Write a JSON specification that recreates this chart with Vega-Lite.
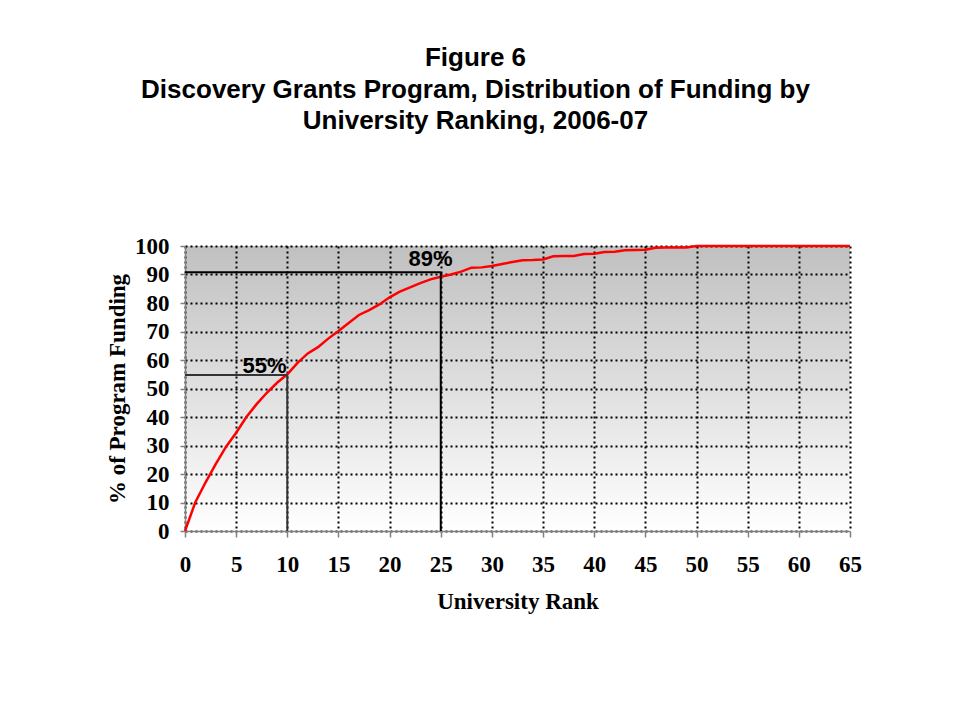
{
  "$schema": "https://vega.github.io/schema/vega-lite/v6.json",
  "width": 665,
  "height": 285,
  "autosize": {"type": "none"},
  "padding": {"left": 185, "top": 246, "right": 104, "bottom": 184},
  "background": "white",
  "title": {
    "text": ["Figure 6", "Discovery Grants Program, Distribution of Funding by", "University Ranking, 2006-07"],
    "font": "Liberation Sans",
    "fontSize": 26,
    "fontWeight": "bold",
    "lineHeight": 31.5,
    "color": "black",
    "anchor": "middle",
    "frame": "group",
    "offset": 101,
    "dx": -42
  },
  "config": {
    "view": {
      "stroke": null,
      "fill": {
        "gradient": "linear",
        "x1": 0, "y1": 0, "x2": 0, "y2": 1,
        "stops": [
          {"offset": 0, "color": "#c0c0c0"},
          {"offset": 1, "color": "#ffffff"}
        ]
      }
    }
  },
  "datasets": {
    "curve": [
      {"rank": 0, "pct": 0}, {"rank": 1, "pct": 10}, {"rank": 2, "pct": 17}, {"rank": 3, "pct": 23.5},
      {"rank": 4, "pct": 29.5}, {"rank": 5, "pct": 34.5}, {"rank": 6, "pct": 40}, {"rank": 7, "pct": 44.5},
      {"rank": 8, "pct": 48.5}, {"rank": 9, "pct": 52}, {"rank": 10, "pct": 55}, {"rank": 11, "pct": 59},
      {"rank": 12, "pct": 62.3}, {"rank": 13, "pct": 64.5}, {"rank": 14, "pct": 67.5}, {"rank": 15, "pct": 70.2},
      {"rank": 16, "pct": 73}, {"rank": 17, "pct": 75.8}, {"rank": 18, "pct": 77.5}, {"rank": 19, "pct": 79.5},
      {"rank": 20, "pct": 82}, {"rank": 21, "pct": 84}, {"rank": 22, "pct": 85.5}, {"rank": 23, "pct": 87},
      {"rank": 24, "pct": 88.3}, {"rank": 25, "pct": 89.2}, {"rank": 26, "pct": 90}, {"rank": 27, "pct": 91},
      {"rank": 28, "pct": 92.4}, {"rank": 29, "pct": 92.5}, {"rank": 30, "pct": 93}, {"rank": 31, "pct": 93.7},
      {"rank": 32, "pct": 94.4}, {"rank": 33, "pct": 95}, {"rank": 34, "pct": 95.1}, {"rank": 35, "pct": 95.3},
      {"rank": 36, "pct": 96.4}, {"rank": 37, "pct": 96.5}, {"rank": 38, "pct": 96.5}, {"rank": 39, "pct": 97.2},
      {"rank": 40, "pct": 97.3}, {"rank": 41, "pct": 97.9}, {"rank": 42, "pct": 98}, {"rank": 43, "pct": 98.5},
      {"rank": 44, "pct": 98.6}, {"rank": 45, "pct": 98.7}, {"rank": 46, "pct": 99.4}, {"rank": 47, "pct": 99.5},
      {"rank": 48, "pct": 99.5}, {"rank": 49, "pct": 99.5}, {"rank": 50, "pct": 100}, {"rank": 51, "pct": 100},
      {"rank": 52, "pct": 100}, {"rank": 53, "pct": 100}, {"rank": 54, "pct": 100}, {"rank": 55, "pct": 100},
      {"rank": 56, "pct": 100}, {"rank": 57, "pct": 100}, {"rank": 58, "pct": 100}, {"rank": 59, "pct": 100},
      {"rank": 60, "pct": 100}, {"rank": 61, "pct": 100}, {"rank": 62, "pct": 100}, {"rank": 63, "pct": 100},
      {"rank": 64, "pct": 100}, {"rank": 65, "pct": 100}
    ],
    "refs": [
      {"line": "a", "rank": 0, "rank2": 10, "pct": 54.7, "pct2": 54.7},
      {"line": "a", "rank": 10, "rank2": 10, "pct": 0, "pct2": 54.7},
      {"line": "b", "rank": 0, "rank2": 25, "pct": 90.8, "pct2": 90.8},
      {"line": "b", "rank": 25, "rank2": 25, "pct": 0, "pct2": 90.8}
    ],
    "labels": [
      {"label": "55%", "rank": 7.77, "pct": 55.4},
      {"label": "89%", "rank": 24.0, "pct": 93.0}
    ]
  },
  "encoding": {
    "x": {
      "field": "rank", "type": "quantitative",
      "scale": {"domain": [0, 65], "nice": false, "zero": false},
      "axis": {
        "values": [0, 5, 10, 15, 20, 25, 30, 35, 40, 45, 50, 55, 60, 65],
        "title": "University Rank",
        "grid": true, "gridColor": "black", "gridDash": [2, 3], "gridWidth": 2, "gridOpacity": 1,
        "domainColor": "#808080", "domainWidth": 1.5, "tickColor": "#808080", "tickSize": 6, "tickWidth": 1.5,
        "labelFont": "Liberation Serif", "labelFontSize": 23, "labelFontWeight": "bold", "labelColor": "black",
        "labelPadding": 16, "labelFlush": false, "labelOverlap": false,
        "titleFont": "Liberation Serif", "titleFontSize": 23, "titleFontWeight": "bold", "titleColor": "black",
        "titlePadding": 14
      }
    },
    "y": {
      "field": "pct", "type": "quantitative",
      "scale": {"domain": [0, 100], "nice": false},
      "axis": {
        "values": [0, 10, 20, 30, 40, 50, 60, 70, 80, 90, 100],
        "title": "% of Program Funding",
        "grid": true, "gridColor": "black", "gridDash": [2, 3], "gridWidth": 2, "gridOpacity": 1,
        "domainColor": "#808080", "domainWidth": 1.5, "tickColor": "#808080", "tickSize": 5, "tickWidth": 1.5,
        "labelFont": "Liberation Serif", "labelFontSize": 23, "labelFontWeight": "bold", "labelColor": "black",
        "labelPadding": 11, "labelFlush": false, "labelOverlap": false,
        "titleFont": "Liberation Serif", "titleFontSize": 23, "titleFontWeight": "bold", "titleColor": "black",
        "titlePadding": 5
      }
    }
  },
  "layer": [
    {
      "data": {"name": "curve"},
      "mark": {"type": "line", "color": "#ff0000", "strokeWidth": 2.5}
    },
    {
      "data": {"name": "refs"},
      "mark": {"type": "rule", "strokeWidth": 2},
      "encoding": {
        "x2": {"field": "rank2"},
        "y2": {"field": "pct2"},
        "color": {"field": "line", "type": "nominal", "scale": {"domain": ["a", "b"], "range": ["#333333", "#000000"]}, "legend": null}
      }
    },
    {
      "data": {"name": "labels"},
      "mark": {"type": "text", "font": "Liberation Sans", "fontSize": 22, "fontWeight": "bold", "color": "black", "align": "center", "baseline": "alphabetic"},
      "encoding": {
        "text": {"field": "label", "type": "nominal"}
      }
    }
  ]
}
